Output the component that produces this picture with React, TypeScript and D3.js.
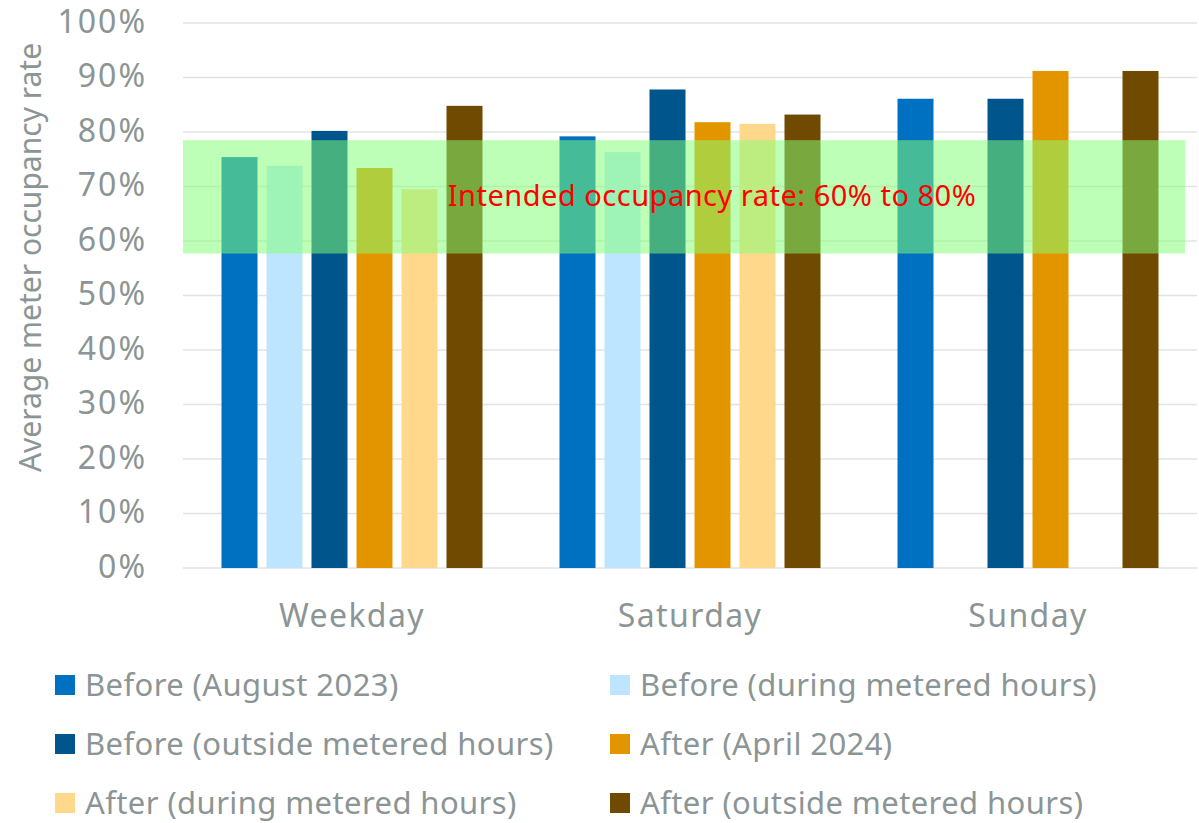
import { useRef, useEffect } from "react";
import * as d3 from "d3";

const categories = ["Weekday", "Saturday", "Sunday"];
const seriesNames = [
  "Before (August 2023)",
  "Before (during metered hours)",
  "Before (outside metered hours)",
  "After (April 2024)",
  "After (during metered hours)",
  "After (outside metered hours)",
];
const seriesColors = ["#0070C0", "#BDE5FF", "#00558C", "#E39500", "#FFD88C", "#704A00"];
// values per series, in category order (null = no bar)
const beforeAug = [75.4, 79.2, 86.1];
const beforeDuring = [73.8, 76.3, null];
const beforeOutside = [80.2, 87.8, 86.1];
const afterApr = [73.4, 81.8, 91.2];
const afterDuring = [69.5, 81.5, null];
const afterOutside = [84.8, 83.2, 91.2];
const seriesValues = [beforeAug, beforeDuring, beforeOutside, afterApr, afterDuring, afterOutside];
const yTicks = [0, 10, 20, 30, 40, 50, 60, 70, 80, 90, 100];
const bandRange = [57.7, 78.5];
const bandLabel = "Intended occupancy rate: 60% to 80%";
const yTitle = "Average meter occupancy rate";

const W = 1199;
const H = 823;
const FONT = "'Noto Sans', sans-serif";
const GREY = "#8C9595";

const App = () => {
  const svgRef = useRef<SVGSVGElement>(null);

  useEffect(() => {
    document.body.style.margin = "0";
    const svg = d3.select(svgRef.current);
    svg.selectAll("*").remove();

    const left = 183;
    const right = 1197;
    const top = 23;
    const bottom = 568;

    // scales
    const x0 = d3.scaleBand().domain(categories).range([left, right]);
    const inner = (x0.bandwidth() - 261) / 2;
    const x1 = d3
      .scaleBand()
      .domain(d3.range(seriesNames.length).map(String))
      .range([inner, x0.bandwidth() - inner])
      .paddingInner(0.2);
    const y = d3.scaleLinear().domain([0, 100]).range([bottom, top]);

    // gridlines
    svg
      .append("g")
      .selectAll("line")
      .data(yTicks)
      .join("line")
      .attr("x1", left)
      .attr("x2", right)
      .attr("y1", (d) => y(d))
      .attr("y2", (d) => y(d))
      .attr("stroke", "#E3E3E3")
      .attr("stroke-width", 1.5);

    // y tick labels
    svg
      .append("g")
      .selectAll("text")
      .data(yTicks)
      .join("text")
      .attr("x", 147)
      .attr("y", (d) => y(d))
      .attr("dy", "0.3em")
      .attr("text-anchor", "end")
      .attr("font-family", FONT)
      .attr("font-size", 32)
      .attr("letter-spacing", 2)
      .attr("fill", GREY)
      .text((d) => `${d}%`);

    // y title
    svg
      .append("text")
      .attr("transform", `translate(41,${(top + bottom) / 2 - 38}) rotate(-90)`)
      .attr("text-anchor", "middle")
      .attr("font-family", FONT)
      .attr("font-size", 30)
      .attr("fill", GREY)
      .text(yTitle);

    // bars
    const groups = svg
      .append("g")
      .selectAll("g")
      .data(categories)
      .join("g")
      .attr("transform", (d) => `translate(${x0(d)},0)`);
    groups
      .selectAll("rect")
      .data((_, ci) =>
        seriesValues
          .map((vals, si) => ({ si, v: vals[ci] }))
          .filter((d) => d.v !== null)
      )
      .join("rect")
      .attr("x", (d) => x1(String(d.si))!)
      .attr("width", x1.bandwidth())
      .attr("y", (d) => y(d.v as number))
      .attr("height", (d) => bottom - y(d.v as number))
      .attr("fill", (d) => seriesColors[d.si]);

    // category labels
    svg
      .append("g")
      .selectAll("text")
      .data(categories)
      .join("text")
      .attr("x", (d) => x0(d)! + x0.bandwidth() / 2)
      .attr("y", 627)
      .attr("text-anchor", "middle")
      .attr("font-family", FONT)
      .attr("font-size", 32)
      .attr("letter-spacing", 1.4)
      .attr("fill", GREY)
      .text((d) => d);

    // intended occupancy band
    svg
      .append("rect")
      .attr("x", left)
      .attr("width", right - 12 - left)
      .attr("y", y(bandRange[1]))
      .attr("height", y(bandRange[0]) - y(bandRange[1]))
      .attr("fill", "rgb(130,255,118)")
      .attr("fill-opacity", 0.53);
    svg
      .append("text")
      .attr("x", 712)
      .attr("y", 206)
      .attr("text-anchor", "middle")
      .attr("font-family", FONT)
      .attr("font-size", 29)
      .attr("letter-spacing", 0.5)
      .attr("fill", "#FF0000")
      .text(bandLabel);

    // legend
    const legend = svg
      .append("g")
      .selectAll("g")
      .data(seriesNames)
      .join("g")
      .attr("transform", (_, i) => `translate(${i % 2 === 0 ? 55 : 610},${675 + Math.floor(i / 2) * 59})`);
    legend
      .append("rect")
      .attr("width", 20)
      .attr("height", 20)
      .attr("fill", (_, i) => seriesColors[i]);
    legend
      .append("text")
      .attr("x", 30)
      .attr("y", 20.5)
      .attr("font-family", FONT)
      .attr("font-size", 31)
      .attr("letter-spacing", 0.4)
      .attr("fill", GREY)
      .text((d) => d);
  }, []);

  return <svg ref={svgRef} width={W} height={H} style={{ display: "block" }}></svg>;
};

export default App;
